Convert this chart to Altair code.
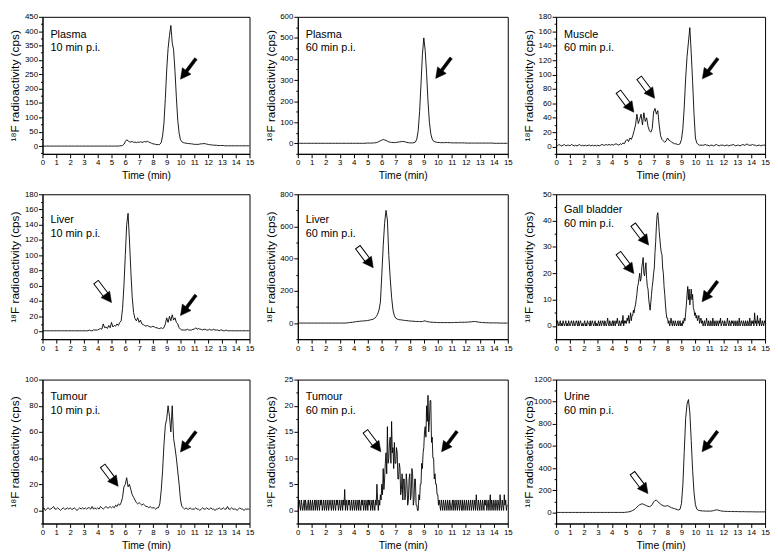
import math
import altair as alt
import pandas as pd

FONT = "Liberation Sans, DejaVu Sans, sans-serif"

# time grids (min)
T = [round(i * 0.1, 1) for i in range(151)]      # 0.1 min sampling
T05 = [round(i * 0.05, 2) for i in range(301)]   # 0.05 min sampling (noisy traces)

# ---- chromatogram readings (cps) ----
plasma10 = [
    0, 0, 0, 0, 0, 0, 0, 0, 0, 0,
    0, 0, 0, 0, 0, 0, 0, 0, 0, 0,
    0, 0, 0, 0, 0, 0, 0, 0, 0, 0,
    0, 0, 0, 0, 0, 0, 0, 0, 0, 0,
    0, 0, 0, 0, 0, 0, 0, 0, 0, 0,
    0, 0, 0, 0, 0, 0, 1, 1, 2, 6,
    16, 22, 18, 15, 14, 16, 13, 14, 12, 14,
    13, 15, 13, 14, 16, 14, 17, 14, 12, 10,
    8, 7, 6, 5, 5, 6, 12, 35, 80, 165,
    265, 340, 385, 420, 360, 335, 260, 170, 90, 45,
    22, 15, 12, 11, 10, 9, 9, 8, 8, 7,
    6, 6, 6, 6, 7, 8, 8, 9, 8, 7,
    6, 5, 4, 4, 3, 3, 3, 2, 2, 2,
    2, 2, 1, 1, 1, 1, 1, 1, 1, 1,
    1, 1, 1, 1, 1, 1, 1, 1, 1, 1,
    1]

plasma60 = [
    0, 0, 0, 0, 0, 0, 0, 0, 0, 0,
    0, 0, 0, 0, 0, 0, 0, 0, 0, 0,
    0, 0, 0, 0, 0, 0, 0, 0, 0, 0,
    0, 0, 0, 0, 0, 0, 0, 0, 0, 0,
    0, 0, 0, 0, 0, 0, 0, 0, 0, 1,
    1, 1, 1, 1, 2, 2, 3, 5, 9, 12,
    15, 18, 16, 14, 10, 7, 5, 4, 4, 3,
    4, 5, 6, 7, 8, 9, 8, 6, 4, 3,
    2, 2, 2, 3, 6, 20, 60, 150, 280, 420,
    500, 440, 330, 200, 100, 45, 20, 10, 7, 5,
    4, 4, 3, 3, 3, 3, 4, 3, 3, 3,
    2, 2, 2, 2, 2, 2, 2, 2, 2, 2,
    1, 1, 1, 1, 1, 1, 1, 1, 1, 1,
    1, 1, 1, 1, 1, 1, 1, 1, 1, 1,
    0, 0, 0, 0, 0, 0, 0, 0, 0, 0,
    0]

muscle60 = [
    2, 1, 3, 2, 1, 2, 3, 1, 2, 2,
    1, 3, 2, 1, 2, 1, 2, 3, 1, 2,
    1, 2, 1, 2, 2, 1, 2, 1, 2, 1,
    2, 1, 2, 3, 2, 2, 3, 2, 3, 2,
    3, 2, 3, 4, 3, 2, 4, 3, 5, 4,
    8, 10, 7, 12, 10, 15, 22, 30, 45, 32,
    38, 45, 30, 47, 35, 40, 28, 22, 20, 25,
    48, 53, 45, 50, 30, 15, 10, 8, 6, 8,
    12, 9, 8, 6, 5, 4, 4, 3, 3, 4,
    10, 25, 55, 95, 125, 145, 165, 130, 90, 45,
    12, 5, 3, 2, 2, 2, 2, 3, 2, 2,
    1, 2, 2, 1, 2, 3, 2, 1, 2, 2,
    2, 1, 2, 2, 1, 2, 2, 3, 2, 1,
    2, 2, 1, 2, 3, 2, 2, 4, 2, 2,
    2, 3, 2, 2, 1, 2, 2, 1, 2, 2,
    2]

liver10 = [
    1, 1, 1, 1, 1, 1, 1, 1, 1, 1,
    1, 1, 1, 1, 1, 1, 1, 1, 1, 1,
    1, 1, 1, 1, 1, 1, 1, 1, 1, 1,
    1, 1, 1, 1, 2, 1, 1, 2, 2, 2,
    2, 3, 4, 3, 10, 5, 6, 4, 8, 5,
    12, 6, 8, 7, 10, 8, 12, 14, 30, 60,
    100, 140, 155, 120, 80, 45, 25, 17, 14, 18,
    12, 15, 10, 9, 8, 7, 8, 7, 6, 6,
    7, 6, 5, 5, 4, 4, 5, 4, 5, 10,
    18, 12, 20, 14, 22, 15, 18, 12, 10, 5,
    3, 2, 2, 2, 2, 3, 2, 2, 2, 3,
    3, 5, 3, 4, 3, 3, 2, 3, 3, 2,
    2, 3, 2, 2, 3, 2, 2, 2, 1, 2,
    2, 1, 1, 2, 1, 1, 1, 1, 1, 1,
    1, 1, 1, 1, 1, 1, 1, 1, 1, 1,
    1]

liver60 = [
    0, 0, 0, 0, 0, 0, 0, 0, 0, 0,
    0, 0, 0, 0, 0, 0, 0, 0, 0, 0,
    0, 0, 0, 0, 0, 0, 0, 0, 0, 0,
    0, 0, 0, 0, 0, 1, 2, 3, 4, 5,
    6, 8, 9, 10, 11, 12, 13, 13, 14, 15,
    16, 18, 20, 22, 25, 30, 40, 55, 80, 130,
    300, 480, 620, 700, 640, 420, 280, 160, 80, 45,
    30, 25, 22, 20, 20, 18, 17, 16, 15, 14,
    13, 12, 12, 11, 10, 10, 10, 9, 9, 10,
    12, 14, 10, 8, 7, 6, 5, 5, 4, 4,
    3, 3, 3, 3, 3, 3, 3, 3, 3, 3,
    3, 3, 4, 4, 4, 4, 5, 5, 5, 5,
    5, 6, 6, 7, 8, 9, 10, 9, 8, 6,
    5, 4, 3, 3, 2, 2, 2, 1, 1, 1,
    1, 1, 1, 1, 0, 0, 0, 0, 0, 0,
    0]

# gall bladder, 0.05 min sampling (each row = 0.5 min)
gall60 = [
    1, 0, 2, 1, 0, 1, 2, 0, 1, 0,
    2, 1, 0, 1, 2, 0, 1, 0, 2, 1,
    0, 1, 2, 1, 0, 2, 1, 0, 1, 2,
    1, 0, 2, 0, 1, 2, 1, 0, 1, 0,
    1, 2, 0, 1, 0, 2, 1, 1, 0, 2,
    0, 1, 2, 1, 0, 1, 2, 0, 1, 0,
    1, 2, 0, 1, 2, 0, 1, 2, 1, 0,
    2, 1, 0, 1, 3, 1, 0, 2, 1, 0,
    1, 2, 0, 2, 1, 0, 2, 1, 3, 1,
    0, 2, 1, 0, 2, 1, 4, 0, 2, 1,
    2, 1, 3, 2, 4, 1, 3, 5, 2, 4,
    4, 6, 5, 7, 8, 10, 12, 15, 16, 18,
    20, 17, 18, 22, 24, 26, 20, 19, 22, 24,
    18, 15, 14, 10, 8, 6, 9, 12, 15, 17,
    20, 22, 28, 32, 38, 42, 43, 40, 36, 33,
    30, 28, 27, 22, 20, 15, 12, 8, 5, 3,
    3, 1, 2, 0, 1, 3, 1, 0, 2, 1,
    0, 2, 1, 0, 1, 2, 0, 1, 2, 0,
    1, 0, 2, 1, 3, 2, 5, 8, 12, 15,
    10, 14, 8, 11, 14, 10, 12, 7, 6, 4,
    5, 3, 4, 2, 3, 4, 1, 2, 3, 1,
    2, 0, 1, 2, 0, 1, 3, 1, 0, 2,
    1, 0, 2, 1, 0, 3, 1, 0, 2, 1,
    0, 2, 1, 0, 2, 1, 3, 0, 1, 2,
    1, 0, 2, 1, 0, 1, 3, 1, 0, 2,
    1, 0, 2, 1, 2, 0, 1, 2, 0, 1,
    2, 0, 1, 3, 0, 1, 2, 1, 0, 2,
    1, 0, 2, 1, 0, 2, 1, 0, 3, 1,
    0, 2, 1, 2, 0, 5, 1, 2, 0, 4,
    1, 2, 0, 3, 1, 0, 2, 1, 0, 2,
    1]

tumour10 = [
    1, 2, 0, 1, 2, 1, 1, 2, 3, 1,
    1, 2, 1, 0, 1, 2, 1, 1, 2, 1,
    2, 1, 1, 2, 1, 0, 1, 2, 1, 2,
    1, 2, 1, 2, 2, 1, 3, 1, 2, 1,
    2, 1, 3, 2, 1, 2, 3, 2, 2, 3,
    2, 3, 2, 4, 3, 5, 4, 6, 10, 18,
    20, 25, 18, 20, 16, 12, 10, 8, 6, 5,
    6, 5, 4, 5, 4, 3, 3, 2, 3, 2,
    2, 2, 1, 2, 2, 5, 15, 30, 50, 65,
    70, 80, 72, 60, 80, 55, 48, 40, 30, 20,
    8, 3, 2, 1, 2, 1, 1, 2, 1, 1,
    1, 2, 1, 1, 0, 1, 2, 1, 1, 2,
    1, 1, 2, 1, 1, 0, 1, 1, 2, 1,
    1, 2, 1, 1, 3, 1, 1, 2, 1, 1,
    1, 0, 1, 2, 1, 1, 0, 1, 1, 1,
    1]

# tumour 60 min, 0.05 min sampling (each row = 0.5 min)
tumour60 = [
    1, 0, 2, 1, 0, 2, 1, 0, 1, 2,
    0, 2, 1, 0, 1, 2, 0, 1, 2, 0,
    1, 2, 0, 1, 2, 0, 2, 1, 0, 2,
    1, 0, 2, 1, 2, 0, 1, 2, 0, 1,
    2, 0, 1, 2, 0, 1, 2, 1, 0, 2,
    1, 0, 2, 1, 0, 2, 1, 2, 0, 1,
    2, 0, 1, 2, 0, 2, 1, 4, 0, 2,
    1, 0, 2, 1, 2, 0, 1, 2, 0, 1,
    2, 0, 1, 2, 0, 1, 2, 0, 2, 1,
    0, 2, 1, 2, 0, 1, 2, 0, 1, 2,
    0, 2, 1, 2, 0, 1, 2, 0, 2, 1,
    0, 2, 1, 5, 2, 0, 2, 1, 3, 2,
    5, 3, 8, 4, 6, 9, 11, 7, 16, 9,
    10, 13, 14, 9, 17, 11, 12, 8, 13, 9,
    9, 12, 11, 6, 6, 9, 8, 3, 4, 7,
    2, 6, 6, 2, 3, 7, 5, 1, 2, 6,
    7, 2, 3, 8, 7, 1, 2, 6, 6, 1,
    1, 0, 0, 3, 2, 5, 5, 9, 8, 11,
    12, 15, 16, 14, 20, 17, 22, 15, 17, 21,
    21, 13, 14, 10, 10, 6, 7, 5, 5, 3,
    3, 1, 2, 1, 0, 2, 1, 0, 2, 1,
    0, 2, 1, 0, 2, 1, 0, 2, 1, 0,
    1, 2, 0, 2, 1, 0, 2, 1, 0, 2,
    1, 0, 2, 1, 0, 2, 0, 1, 2, 0,
    1, 2, 0, 1, 2, 0, 1, 2, 0, 1,
    2, 0, 1, 2, 0, 3, 1, 0, 2, 1,
    0, 2, 1, 0, 2, 1, 0, 2, 1, 2,
    0, 1, 2, 0, 1, 3, 0, 2, 1, 0,
    2, 1, 0, 2, 1, 0, 2, 1, 0, 3,
    1, 0, 2, 1, 0, 3, 1, 2, 0, 1,
    1]

urine60 = [
    0, 0, 0, 0, 0, 0, 0, 0, 0, 0,
    0, 0, 0, 0, 0, 0, 0, 0, 0, 0,
    0, 0, 0, 0, 0, 0, 0, 0, 0, 0,
    0, 0, 0, 0, 0, 0, 0, 0, 0, 0,
    0, 0, 0, 0, 0, 0, 0, 0, 0, 0,
    2, 3, 5, 8, 12, 18, 25, 35, 48, 60,
    70, 75, 78, 72, 66, 60, 55, 52, 58, 70,
    95, 108, 110, 100, 85, 75, 66, 60, 56, 58,
    62, 55, 48, 42, 38, 34, 30, 26, 22, 30,
    80, 250, 550, 850, 980, 1020, 900, 650, 380, 180,
    70, 30, 20, 17, 15, 14, 13, 12, 12, 12,
    12, 12, 14, 16, 20, 24, 22, 18, 15, 12,
    11, 10, 10, 9, 9, 9, 8, 8, 8, 8,
    8, 7, 7, 7, 7, 7, 6, 6, 6, 6,
    6, 6, 5, 5, 5, 5, 5, 5, 5, 5,
    5]

# ---- panel texts ----
titles = ["Plasma", "Plasma", "Muscle", "Liver", "Liver", "Gall bladder",
          "Tumour", "Tumour", "Urine"]
times = ["10 min p.i.", "60 min p.i.", "60 min p.i.", "10 min p.i.", "60 min p.i.",
         "60 min p.i.", "10 min p.i.", "60 min p.i.", "60 min p.i."]

# ---- y axis ranges, major and minor tick steps ----
y_min = [-27, -50, -10, -10, -100, -5, -10, -2.5, -100]
y_max = [450, 600, 180, 180, 800, 50, 100, 25, 1200]
y_major = [50, 100, 20, 20, 200, 10, 20, 5, 200]
y_minor = [25, 50, 10, 10, 100, 5, 10, 2.5, 100]

# ---- arrow tips (time, cps) ----
solid_arrows = [
    [(10.0, 233)],
    [(9.85, 308)],
    [(10.5, 94)],
    [(10.0, 21)],
    [],
    [(10.48, 9.2)],
    [(10.0, 44.6)],
    [(10.27, 11.2)],
    [(10.48, 548)],
]
open_arrows = [
    [],
    [],
    [(5.58, 47.7), (7.07, 67)],
    [(5.0, 38)],
    [(5.39, 344)],
    [(5.58, 19.9), (6.64, 30.7)],
    [(5.48, 18.4)],
    [(5.93, 11.2)],
    [(6.59, 170)],
]

series = [plasma10, plasma60, muscle60, liver10, liver60, gall60,
          tumour10, tumour60, urine60]
grids = [T, T, T, T, T, T05, T, T05, T]
for s, g in zip(series, grids):
    assert len(s) == len(g)

# ---- layout ----
widths = [210, 213, 212]
heights = [139, 147, 146]
label_top = [12, 12, 12, 20, 20, 10, 12, 12, 12]

SOLID = "M0,0 L0.42,0.8 L0.12,0.8 L0.12,2 L-0.12,2 L-0.12,0.8 L-0.42,0.8 Z"
HEAD = "M0,0 L0.42,0.8 L-0.42,0.8 Z"
SHAFT = "M-0.22,0.7 L0.22,0.7 L0.22,2 L-0.22,2 Z"
ARROW_SIZE = 676

XTICKS = [k * 0.5 for k in range(31)]


def panel(i):
    row, col = divmod(i, 3)
    df = pd.DataFrame({"t": grids[i], "v": series[i]})
    mn = y_minor[i]
    yt = [k * mn for k in range(math.ceil(y_min[i] / mn), math.floor(y_max[i] / mn) + 1)]
    maj = y_major[i]

    xaxis_kwargs = dict(
        values=XTICKS,
        labelExpr="datum.value % 1 === 0 ? datum.label : ''",
        format="d",
        tickSize={"condition": {"test": "datum.value % 1 === 0", "value": 4}, "value": 2},
        labelPadding=1,
        labelFlush=False,
        titlePadding=4,
        titleFontSize=10.5,
    )
    if row == 1:
        xaxis_kwargs["title"] = None
    else:
        xaxis_kwargs["title"] = "Time (min)"
    x = alt.X("t:Q", scale=alt.Scale(domain=[0, 15], nice=False, zero=False),
              axis=alt.Axis(**xaxis_kwargs))
    y = alt.Y("v:Q", scale=alt.Scale(domain=[y_min[i], y_max[i]], nice=False, zero=False),
              axis=alt.Axis(
                  values=yt,
                  labelExpr=f"datum.value >= 0 && datum.value % {maj} === 0 ? datum.label : ''",
                  format="d",
                  tickSize={"condition": {"test": f"datum.value % {maj} === 0", "value": 4}, "value": 2},
                  labelPadding=1,
                  labelFlush=False,
                  minExtent=20, maxExtent=20,
                  titlePadding=1,
                  titleFontSize=12,
                  title="\u00b9\u2078F radioactivity (cps)",
              ))

    layers = [
        alt.Chart(df).mark_line(color="black", strokeWidth=0.9, clip=True).encode(x=x, y=y)
    ]
    if solid_arrows[i]:
        sdf = pd.DataFrame(solid_arrows[i], columns=["t", "v"])
        layers.append(alt.Chart(sdf).mark_point(
            shape=SOLID, size=ARROW_SIZE, filled=True, fill="black", stroke="black",
            strokeWidth=0.5, opacity=1, angle=217).encode(x=x, y=y))
    if open_arrows[i]:
        odf = pd.DataFrame(open_arrows[i], columns=["t", "v"])
        layers.append(alt.Chart(odf).mark_point(
            shape=SHAFT, size=ARROW_SIZE, filled=True, fill="white", stroke="black",
            strokeWidth=1, opacity=1, angle=143).encode(x=x, y=y))
        layers.append(alt.Chart(odf).mark_point(
            shape=HEAD, size=ARROW_SIZE, filled=True, fill="black", stroke="black",
            strokeWidth=0.5, opacity=1, angle=143).encode(x=x, y=y))
    tdf = pd.DataFrame({"label": [titles[i] + "\n" + times[i]]})
    layers.append(alt.Chart(tdf).mark_text(
        align="left", baseline="top", lineBreak="\n", lineHeight=14,
        fontSize=11, font=FONT, color="black").encode(
        x=alt.value(8), y=alt.value(label_top[i]), text="label:N"))
    return alt.layer(*layers).properties(width=widths[col], height=heights[row])


charts = [panel(i) for i in range(9)]

chart = alt.concat(
    *charts, columns=3, spacing={"row": 41, "column": 49}, bounds="flush"
).properties(
    padding={"left": 0, "top": 0, "right": 0, "bottom": 0}
).configure_view(
    stroke="black", strokeWidth=1
).configure_axis(
    grid=False, domainColor="black", domainWidth=1, tickColor="black", tickWidth=1,
    labelColor="black", titleColor="black", labelFont=FONT, titleFont=FONT,
    labelFontSize=8, titleFontWeight="normal",
)

chart.save("out.html", embed_options={"renderer": "svg", "actions": False})
